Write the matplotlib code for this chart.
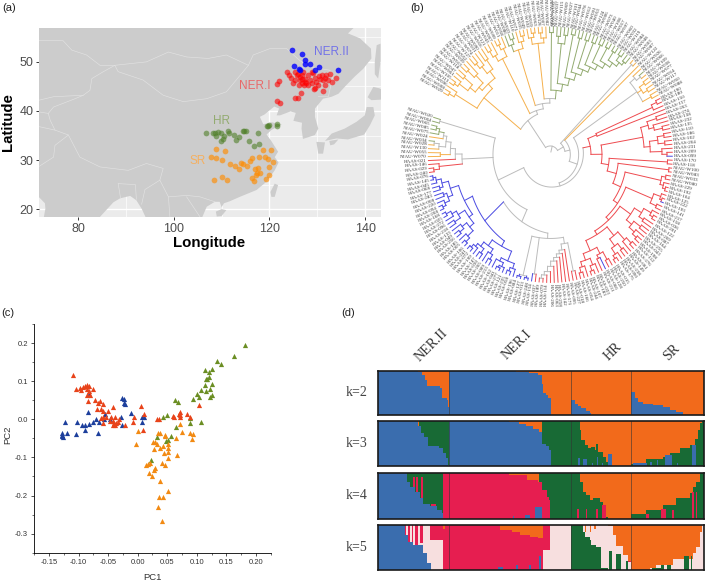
import re
import numpy as np
import matplotlib
matplotlib.use("Agg")
import matplotlib.pyplot as plt
from matplotlib.ticker import MultipleLocator

W, H = 709, 582
plt.rcParams['font.family'] = ['Liberation Sans', 'DejaVu Sans']

# ---- (a) sampling sites, lon/lat
ner2_lon = [124.7,126.7,127.5,127.4,128.5,125.2,126.1,126.4,129.5,130.4,134.3]
ner2_lat = [52.4,51.7,50.3,49.5,49.6,49.2,48.5,48.3,48.4,48.9,48.4]
ner1_lon = [123.6,124.0,124.4,125.3,125.7,125.3,125.0,126.1,126.3,126.7,127.0,127.4,127.7,128.1,128.4,128.8,129.1,129.5,129.8,128.8,129.5,130.2,130.5,130.9,131.2,131.6,131.9,132.6,132.3,133.0,134.0,131.1,126.5,126.0,125.4,121.6,122.0,121.6,122.2,126.7,127.2,128.1,130.4,131.6,126.3,126.0,127.4,126.7,129.3]
ner1_lat = [48.0,47.3,46.8,48.0,47.3,46.3,45.6,45.2,46.3,47.3,48.0,46.6,45.6,47.3,46.3,48.0,47.8,46.8,45.9,45.6,44.6,45.2,46.6,47.3,46.3,45.2,47.3,47.6,46.3,45.8,46.8,44.1,43.7,42.7,42.7,45.4,46.1,42.1,41.7,45.6,45.2,45.2,47.1,46.8,46.9,47.5,45.9,46.6,44.4]
hr_lon = [106.7,108.3,108.6,108.9,109.3,109.8,110.5,110.2,109.9,111.4,111.6,112.6,113.6,113.1,114.4,114.7,115.1,117.6,115.8,116.7,117.9,119.4,119.9,119.8,121.5,121.5]
hr_lat = [35.6,35.5,35.5,34.9,35.7,35.5,34.9,34.2,33.9,35.9,35.5,35.1,34.7,34.0,36.0,36.0,35.9,35.6,33.9,32.8,33.2,36.9,37.1,36.9,37.4,37.0]
sr_lon = [108.9,110.8,107.8,108.9,110.0,118.6,120.3,120.8,119.9,116.3,116.0,117.9,119.0,119.7,111.7,112.9,113.6,114.0,114.5,115.4,117.0,117.6,118.1,117.3,117.1,119.9,119.2,116.4,116.7,108.5,110.1,111.1]
sr_lat = [32.3,31.8,30.7,30.4,30.0,32.1,32.1,29.6,28.5,30.4,29.8,30.7,30.7,30.3,29.2,28.8,28.2,29.5,29.1,28.8,28.2,28.3,27.4,27.4,27.0,27.0,26.1,26.4,25.8,26.0,26.6,26.0]

# map outlines, lon/lat
land = [(138.2,57.5),(136.4,55.8),(138.9,54.8),(141.2,52.7),(141.3,50.7),(139.6,48.6),(137.8,47),(136.1,45.3),(134.4,43.5),(133,42.9),(131.2,42.5),(129.5,40.5),(129.5,38.8),(130.2,36.4),(129.5,35.1),(127,34.3),(126.7,36.4),(126.8,37.6),(125,38),(125.5,39.6),(124.4,39.9),(122.2,39.1),(121.5,39.1),(122,40.5),(121,40.9),(119,39.3),(118,38.8),(118.7,37.3),(120.5,37.7),(122.6,37.2),(120.5,36.2),(119.4,35.2),(120.3,34),(121.8,31.7),(121.1,30.6),(121.9,29.5),(121.1,27.9),(119.4,25.6),(117.3,23.9),(113.8,22.5),(111.7,21.6),(110.5,21.2),(110,20.4),(109.6,21.5),(108.6,21.5),(106.9,20.5),(105.8,18),(94.3,18),(93.3,20.1),(92.2,21.8),(90.9,22.7),(88.8,22.2),(87.4,21.4),(84.2,18),(72.8,18),(73.2,20.1),(73.1,21.2),(71.9,22.4),(71,22.4),(71,57.5)]
honshu = [(141.7,40.8),(142,39.1),(141,37.1),(139.8,35.2),(136.4,34.2),(134,34.4),(131.6,33.9),(133,35.4),(135.7,36.4),(138.2,37.8),(139.9,39.1),(140.3,40.8)]
hokkaido = [(141.7,44.9),(143,44.6),(145,43.5),(143.2,42.3),(141.3,42.2),(140.5,42.8)]
kyushu = [(129.8,33.7),(131.6,33.6),(131.2,31.3),(130.2,31.3)]
shikoku = [(132.5,33.9),(134.4,34.2),(133.5,33.2),(132.7,33)]
sakhalin = [(142.4,53.4),(143.2,53.7),(143.2,50),(142.7,46.6),(142,47.5),(142,50)]
taiwan = [(121.1,25.2),(121.8,24.9),(121.1,22.5),(120.4,22.5),(120.2,23.5)]
hainan = [(108.8,19.5),(110,20),(111,19.8),(110,18.6),(109,18.5)]
islands = [honshu, hokkaido, kyushu, shikoku, sakhalin, taiwan, hainan]
border_north = [(71.9,54.4),(76.9,54.3),(78.7,52.4),(81.8,51.4),(84.6,49.3),(87.7,49.3),(94.3,50),(98.9,52),(102.7,51),(107.2,50.7),(111,51.4),(115.6,49.3),(116.6,51.4),(120.1,52.7),(123.6,52.7),(126.3,50.3),(128.4,49),(132.6,48.3),(133.3,47.3),(132.3,42.9),(130.2,42.9)]
border_mongolia = [(87.7,49.3),(88.4,48),(93.6,46.3),(97.8,43.2),(102,41.9),(106.9,42.5),(111,43.9),(114.5,48),(115.6,49.3)]
border_west = [(87.7,49.3),(85.3,48),(82.9,46.6),(82.5,44.2),(81.1,43.2),(79.4,42.5),(74.9,40.8),(73.8,39.5),(74.2,38.1),(75.2,36.1),(78,35.1),(80.4,30.6),(84.6,28.6),(90.5,27.9),(94.3,29.3),(97.8,28.3),(97.1,25.9),(98.9,22.5),(102.7,22.8),(105.5,22.5),(108.6,21.5)]
border_kaz = [(81.1,43.2),(74.9,42.9),(71.9,42.2)]
border_tajik = [(73.8,39.5),(71.9,39.8)]
border_afg = [(75.2,36.1),(71.9,36.8)]
border_pak = [(71.7,28.6),(74.9,30.6),(75.2,33),(78,35.1)]
border_bangla = [(88.4,25.2),(88.9,22.2)]
border_bangla2 = [(88.4,25.2),(92,25),(92.2,22)]
border_myanmar = [(97.1,25.9),(94,24),(93.3,21)]
border_laos = [(102.7,22.5),(105.5,18.4)]
border_thai = [(98.9,22.5),(99.2,18.4)]
border_lines = [border_north, border_mongolia, border_west, border_kaz, border_tajik, border_afg, border_pak, border_bangla, border_bangla2, border_myanmar, border_laos, border_thai]

# ---- (b) tree, leaves in clockwise order, node radii in ring units (tip = 366)
o1 = "(257 (333 (350 o o) o) (275 (288 (308 (340 (352 o o) o) (340 o o)) (318 (345 o o) o)) (300 (325 (342 o o) o) (332 o o))))"
o2 = "(310 (328 (347 o o) o) (335 (350 o o) o))"
o3 = "(315o (335 g (350 g g)) (335 o (350 o o)))"
o4 = "(321 (340 o (352 o o)) (335 (350 o o) o))"
green = "(185 (350 g g) (205 (320 (340 g g) (345 g g)) (225 (350 g g) (245 (345 g g) (262 (345 g g) (278 (345 g g) (293 (348 g g) (308 (350 g g) (322 (350 g g) (335 (352 g g) (345 g g)))))))))))"
clade_a = f"(115:122 {o1} (133 {o2} (148 {o3} (161 {o4} {green}))))"
right_mix = "(316 (335 o (350 g o)) (330 (348 o o) (345 o o)) (345 o o))"
red_first = "(150 (335 (352 r r) r) r)"
red_cluster = "(282r (305 (335 r r) (320 r (345 r r))) (300r (325 (345 r r) (345 r r)) (335r r (350r r b))))"
red_cl1 = "(340 (352 r r) (350 r (358 r r)))"
red_cl1b = "(330r (352r r (358r r b)) (350 r r))"
red_cl2 = "(295 (320 (345 r (355 r r)) (335 r r)) (315 (340 r r) (335 r (350 r r))))"
red_low_a = "(300 (330 (350 r r) r) (325 (345 r r) (345 r (355 r r))))"
red_low_b = "(300r (320r (345 r r) (330r b r)) (320 (340 r (355 r r)) (335 r (350 r r))))"
red_chain = f"(177r (352 r r) (205r (358 r r) (230r {red_cl1} (245r {red_cl1b} (256r {red_cl2} (268r {red_low_a} {red_low_b}))))))"
clade_red = f"(122r {red_first} (155r {red_cluster} {red_chain}))"
mix_n1 = "(258x (340x r r) (275x r (285x r (295x r (305x r (320x r (335x r (345x r (355x r r)))))))))"
clade_m = f"(240x {mix_n1} (345x r b) (355x (360 b b) (360 b b)))"
blue_b = "(300 (330 (345 b (355 b b)) (340 (352 b (358 b b)) b)) (320 (335 (350 b b) b) (335 (350 b b) (345 b (355 b b)))))"
blue_a = "(289 (302 (318 (340 (355 b b) b) (335 (350 b b) b)) (325 (345 b b) (340 b (355 b b)))) (315 (330 (345 (355 b b) b) (340 b b)) (335 (345 b b) (350 b (358 b b)))))"
clade_left = "(265 (335 (352 r r) r) (285 r (300 (330 o o) (315 (335 o (350 o g)) (325 o (340 g (350 g g)))))))"
clade_x = f"(172 (225:195 {clade_m} (283:262 {blue_b} {blue_a})) {clade_left} (345x g g))"
tree_str = f"(25 {clade_a} (45 (355x o o) (60 o (85 {right_mix} (100:88 {clade_red} {clade_x})))))"

leaf_ids = """W029 W008 W096 W113 W105 W061 W047 W118 W013 W039 W052 W127 W074 W031 W090 W016
W121 W043 W067 W099 W011 W058 W086 W023 W110 W071 W035 W049 W102 W019 W063 W126 W007 W082
W056 W092 W037 W115 W069 W027 W101 W044 W078 W012 W091 W053 W124 W006 W073 W040 W108 W017 W097 W060 W032 W119 W084 W048
W003 W087 W122 W026 W066 W109 W038 W077 W014 W117 W050 W088
190 180 150 157 263 274 138 232 135 110 186 102 204 231 209 099 170 118 W100 W083 W033 W080
229 192 104 125 222 193 141 217 158 036 201 122 269 087 164 255 043 198 112 276 061 149 238 090 175 015 250 128 066 211 033 183 107 244 054 166
018 227 095 171 142 258 063 206 114 079 189 037 154 248 013 127 084
196 058 235 121 277 041 162 213 089 265 030 147 199 072 241 106 005 185 256 049 133 218 096 272 025 168 208 094 220 008 283 177 068 045 145 076
240 029 146 021 W070 W055 W130 W028 W034 W024 W075 W085 W065 W064 W020""".split()

tree_colors = {'o': '#f5b04c', 'g': '#93ab70', 'r': '#ee4a4f', 'b': '#4a4ae2', 'x': '#bcbcbc'}

# ---- (c) PCA
blue_pc1 = [-0.128,-0.128,-0.126,-0.123,-0.119,-0.128,-0.104,-0.102,-0.095,-0.090,-0.083,-0.090,-0.067,-0.071,-0.075,-0.065,-0.084,-0.055,-0.057,-0.047,-0.026,-0.024,-0.023,-0.021,-0.011,-0.027,-0.029,0.010,0.007,0.008,-0.082]
blue_pc2 = [-0.037,-0.044,-0.046,-0.007,-0.035,-0.042,-0.039,-0.006,-0.015,-0.014,-0.013,-0.029,-0.035,0.000,-0.007,-0.008,0.019,0.013,0.001,0.000,0.057,0.052,0.043,0.039,0.016,-0.016,0.006,0.007,-0.007,0.005,0.066]
red_pc1 = [-0.110,-0.104,-0.098,-0.096,-0.092,-0.090,-0.086,-0.082,-0.086,-0.082,-0.075,-0.085,-0.081,-0.084,-0.072,-0.067,-0.063,-0.058,-0.069,-0.062,-0.058,-0.050,-0.042,-0.062,-0.058,-0.053,-0.046,-0.038,-0.032,-0.058,-0.041,-0.038,-0.036,-0.021,-0.007,-0.008,0.006,0.010,0.009,0.032,0.036,0.059,0.071,0.072,0.072,0.084,0.089,0.103,-0.047,-0.041,-0.034,-0.040,0.062,0.069]
red_pc2 = [0.115,0.079,0.083,0.078,0.085,0.087,0.091,0.087,0.079,0.075,0.079,0.065,0.064,0.049,0.050,0.042,0.047,0.040,0.026,0.028,0.021,0.023,0.033,0.003,0.007,0.007,0.007,0.005,0.000,-0.009,-0.016,-0.016,-0.011,-0.015,0.005,-0.007,0.036,0.014,-0.027,0.000,0.000,0.008,0.019,0.011,0.007,0.013,0.005,0.037,-0.004,-0.004,-0.006,-0.011,0.005,0.014]
green_pc1 = [0.182,0.163,0.134,0.141,0.113,0.120,0.126,0.120,0.118,0.115,0.125,0.113,0.123,0.116,0.107,0.101,0.104,0.126,0.123,0.093,0.063,0.068,0.042,0.050,0.065,0.056,0.052,0.048,0.088,0.088,0.107,0.023,0.033]
green_pc2 = [0.194,0.167,0.153,0.145,0.130,0.125,0.132,0.112,0.107,0.105,0.093,0.090,0.080,0.074,0.076,0.067,0.059,0.064,0.059,0.052,0.051,0.045,0.005,0.012,-0.020,-0.044,-0.055,-0.058,0.003,-0.010,-0.006,-0.106,-0.047]
orange_pc1 = [0.000,-0.003,0.034,0.037,0.046,0.046,0.064,0.075,0.071,0.089,0.093,0.092,0.026,0.030,0.032,0.038,0.027,0.042,0.051,0.052,0.051,0.045,0.051,0.066,0.041,0.046,0.014,0.018,0.021,0.027,0.029,0.019,0.024,0.037,0.051,0.036,0.042,0.034,0.041]
orange_pc2 = [-0.032,-0.065,-0.035,-0.035,-0.044,-0.040,-0.050,-0.034,-0.012,-0.035,-0.038,-0.051,-0.059,-0.059,-0.065,-0.076,-0.078,-0.070,-0.064,-0.075,-0.087,-0.088,-0.101,-0.093,-0.115,-0.120,-0.121,-0.116,-0.114,-0.134,-0.129,-0.142,-0.148,-0.161,-0.188,-0.203,-0.204,-0.229,-0.266]

# ---- (d) ancestry, (sample index, upper bound) steps per layer
n_samples = 196
group_ends = [43, 116, 152]
group_names = ["NER.II", "NER.I", "HR", "SR"]
k2_blue = [(0,1),(24,.98),(26.5,.9),(28.5,.79),(29.5,.65),(37.5,.6),(38.5,.38),(41.5,.34),(42.3,.19),(42.7,0),(43,1),(75,.99),(83,.97),(91,.95),(96,.9),(98.5,.7),(99.5,.5),(101,.45),(102,.38),(104,0),(116,.34),(118.4,.25),(120.4,.2),(122.4,.16),(125.4,.08),(127.8,.04),(128,0),(152.2,.52),(154.4,.38),(156.4,.3),(159.4,.24),(165.4,.22),(171.4,.17),(175.4,.12),(179.4,.06),(183.4,.01),(184.4,0)]
k3_green = [(0,1),(23.4,.85),(25,1),(43,0),(79,.95),(80,0),(85,.9),(86,0),(89,.88),(90,0),(98.6,1),(121.4,.8),(122.4,.58),(124.4,.47),(126.4,.39),(128.4,.43),(130.4,.35),(131.4,.5),(132.4,.32),(135.4,.2),(137.4,.1),(138.4,.02),(140,0),(152.4,.05),(161.4,.15),(171.4,.2),(175.4,.28),(181.4,.39),(187.4,.47),(190.4,.6),(192.4,.8),(193.8,.95),(195,1)]
k3_blue = [(0,1),(24,.9),(26,.74),(28,.65),(30,.44),(37,.4),(39,.28),(41,.17),(42.5,.02),(43,1),(74,.99),(79,.97),(85,.93),(89,.88),(93,.82),(97,.76),(98.6,.5),(101,.45),(103,.35),(104,0),(120.5,.17),(121.5,0),(123.5,.15),(125.5,0),(128.5,.06),(129.5,0),(131.5,.2),(132.5,0),(134.5,.06),(135.5,0),(138.5,.26),(140.5,0),(153.5,.06),(161.5,0),(163.5,.1),(164.5,0),(167.5,.13),(168.5,0),(172.5,.25),(176.5,0),(179.5,.06),(180.5,0),(189,.47),(191,0)]
k4_green = [(0,1),(43,0),(97,1),(121.4,.8),(123.4,.59),(125.4,.51),(127.4,.4),(129.4,.44),(133.4,.37),(135.4,.26),(137.4,.04),(138.4,0),(152.4,.1),(161.4,.19),(171.4,.3),(179.4,.44),(187.4,.55),(189.4,.7),(191.4,.8),(193.4,.99),(195,1)]
k4_pink = [(0,0),(16.4,.9),(17.8,0),(21.4,.9),(22.4,0),(23,.9),(24,0),(26,.9),(27.4,0),(32,.33),(35,0),(39.4,1),(43,.99),(78.6,.95),(89.4,.85),(96.4,.8),(98.6,.62),(101.4,.48),(103,.4),(103.4,0),(120,.22),(121,0),(125,.22),(126,0),(131.4,.22),(132.4,0),(135,.3),(137,0),(161,.1),(163,0),(170,.22),(173,0),(177,.2),(178,0),(189,.58),(190,0),(191.4,.58),(192,0)]
k4_blue = [(0,1),(17.4,.8),(19.4,.7),(22.4,.59),(25.4,.44),(27.4,.33),(31.4,.27),(35.4,.2),(38.4,.12),(39.4,0),(81,.06),(82,0),(88.4,.08),(91.4,0),(94.4,.26),(98.4,0)]
k5_pink = [(0,0),(16.4,1),(17,0),(18.4,1),(19.4,0),(20.4,1),(21.4,0),(22.4,1),(24.4,0),(25.4,1),(27.4,0),(31.4,1),(39.4,.9),(40.4,1),(73.4,.89),(80.4,.85),(85.4,.78),(91.4,.74),(96.4,.7),(99.4,1),(103.4,0),(150.4,.2),(152,0)]
k5_pale = [(0,0),(17,1),(18.4,.5),(19.4,1),(20.4,.5),(21.4,1),(22.4,.5),(24.4,1),(25.4,.6),(27.4,1),(31.4,.66),(39.4,0),(99.4,.44),(103.4,1),(124.4,.85),(125.4,1),(127.4,.85),(128.4,1),(130,.9),(131,1),(138.4,.98),(141.4,.78),(143.4,.52),(147.4,.33),(150.4,.18),(152.2,0),(163.4,.03),(167.4,.1),(177.4,.25),(189.4,.37),(191.4,.51),(193.4,.85),(195,1)]
k5_green = [(0,0),(116,1),(123.4,.85),(124.4,.74),(127.4,.66),(128.4,.55),(131.4,.51),(134.4,.03),(138.4,0),(139,.42),(141,0),(143.4,.35),(146,0),(149,.2),(150.4,0),(165,.03),(170,.1),(172,0),(174,.1),(176,0),(184,.3),(187,0),(188,.3),(189,0)]
k5_blue = [(0,1),(16.4,.78),(18.4,.63),(21.4,.55),(27.4,.37),(29.4,.16),(31.8,0),(72,.06),(75,0),(83,.1),(84,0),(91,.1),(92,0),(97,.3),(98,0)]

c_blue, c_orange, c_green, c_pink, c_pale = '#3a6dae', '#f26a1b', '#186a35', '#e61e50', '#f7dfdf'


def px_axes(left, top, right, bottom):
    return fig.add_axes([left / W, 1 - bottom / H, (right - left) / W, (bottom - top) / H])


def px_text(x, y, s, **kw):
    fig.text(x / W, 1 - y / H, s, **kw)


fig = plt.figure(figsize=(W / 100, H / 100), dpi=100)

# ---------- panel (a)
ax = px_axes(39, 28, 381, 217)
ax.set_facecolor('#ebebeb')
ax.set_xlim(71.86, 143.3)
ax.set_ylim(18.4, 56.9)
for x in [80, 100, 120, 140]:
    ax.axvline(x, color='white', lw=1.0, zorder=1)
for x in [90, 110, 130]:
    ax.axvline(x, color='white', lw=0.5, zorder=1)
for y in [20, 30, 40, 50]:
    ax.axhline(y, color='white', lw=1.0, zorder=1)
for y in [25, 35, 45, 55]:
    ax.axhline(y, color='white', lw=0.5, zorder=1)
ax.fill(*zip(*land), color='#cccccc', lw=0, zorder=2)
for isl in islands:
    ax.fill(*zip(*isl), color='#cccccc', lw=0, zorder=2)
for line in border_lines:
    ax.plot(*zip(*line), color='#e2e2e2', lw=0.45, zorder=3)
ax.scatter(ner1_lon, ner1_lat, s=17, color='#ff0000', alpha=0.6, lw=0, zorder=4)
ax.scatter(ner2_lon, ner2_lat, s=17, color='#0000ff', alpha=0.8, lw=0, zorder=4)
ax.scatter(hr_lon, hr_lat, s=17, color='#4f7f28', alpha=0.6, lw=0, zorder=4)
ax.scatter(sr_lon, sr_lat, s=17, color='#ff8c00', alpha=0.65, lw=0, zorder=4)
ax.text(133, 52, "NER.II", color='#7272e8', fontsize=8.5, ha='center', va='center', zorder=5)
ax.text(117, 45, "NER.I", color='#e86a6a', fontsize=8.5, ha='center', va='center', zorder=5)
ax.text(110, 37.9, "HR", color='#93ab70', fontsize=8.5, ha='center', va='center', zorder=5)
ax.text(105, 29.9, "SR", color='#f5b060', fontsize=8.5, ha='center', va='center', zorder=5)
for sp in ax.spines.values():
    sp.set_visible(False)
ax.set_xticks([80, 100, 120, 140])
ax.set_yticks([20, 30, 40, 50])
ax.tick_params(length=2.5, width=0.7, color='#333333', labelcolor='#4d4d4d', labelsize=9, pad=1.5)
px_text(209, 242.5, "Longitude", fontsize=10.8, fontweight='bold', ha='center', va='center')
px_text(8, 122, "Latitude", fontsize=10.8, fontweight='bold', rotation=90, ha='center', va='center')
px_text(2.5, 8, "(a)", fontsize=8, ha='left', va='center', color='#222222')

# ---------- panel (b)
tokens = re.findall(r"\(|\)|[^\s()]+", tree_str)
pos = 0


def parse():
    # reads one node or leaf from the token list
    global pos
    tok = tokens[pos]
    pos += 1
    if tok != '(':
        return {'leaf': tok}
    head = tokens[pos]
    pos += 1
    fixed = head[-1] if head[-1].isalpha() else None
    nums = (head[:-1] if fixed else head).split(':')
    node = {'r0': float(nums[0]), 'r1': float(nums[-1]), 'fixed': fixed, 'kids': []}
    while tokens[pos] != ')':
        node['kids'].append(parse())
    pos += 1
    return node


root = parse()


def count_leaves(n):
    return 1 if 'leaf' in n else sum(count_leaves(k) for k in n['kids'])


n_leaves = count_leaves(root)
start_angle = 151.0
step_angle = 348.0 / (n_leaves - 1)
leaf_no = 0


def layout(n):
    global leaf_no
    if 'leaf' in n:
        n['ang'] = start_angle - leaf_no * step_angle
        n['col'] = n['leaf']
        n['id'] = leaf_ids[leaf_no % len(leaf_ids)]
        leaf_no += 1
        n['r'] = 366.0
        return
    for k in n['kids']:
        layout(k)
    n['ang'] = (n['kids'][0]['ang'] + n['kids'][-1]['ang']) / 2
    n['r'] = (n['r0'] + n['r1']) / 2
    cols = {k['col'] for k in n['kids']}
    n['col'] = n['fixed'] or (cols.pop() if len(cols) == 1 else 'x')


layout(root)
# elliptical ring, the reference is slightly stretched vertically
ax = px_axes(395.3, -7.6, 705.3, 317)
ax.set_xlim(-465, 465)
ax.set_ylim(-465, 465)
ax.axis('off')


def polar_xy(r, a):
    t = np.radians(a)
    return r * np.cos(t), r * np.sin(t)


def draw(n):
    a0, a1 = n['kids'][0]['ang'], n['kids'][-1]['ang']
    arc = np.linspace(a0, a1, 40)
    x, y = polar_xy(np.linspace(n['r0'], n['r1'], 40), arc)
    ax.plot(x, y, color=tree_colors[n['col']], lw=0.7, zorder=2 if n['col'] != 'x' else 1)
    for k in n['kids']:
        frac = (k['ang'] - a0) / (a1 - a0) if a1 != a0 else 0
        r_from = n['r0'] + (n['r1'] - n['r0']) * frac
        x, y = polar_xy(np.array([r_from, k['r']]), k['ang'])
        ax.plot(x, y, color=tree_colors[k['col']], lw=0.7, zorder=2 if k['col'] != 'x' else 1)
        if 'leaf' in k:
            tx, ty = polar_xy(370, k['ang'])
            name = ("NJAU-" if k['id'].startswith('W') else "HAAS-") + k['id']
            ang = (k['ang'] + 180) % 360 - 180
            if abs(ang) <= 90:
                ax.text(tx, ty, name, rotation=ang, ha='left', va='center', rotation_mode='anchor',
                        fontsize=3.6, family=['Liberation Serif'], color='#333333')
            else:
                ax.text(tx, ty, name, rotation=ang + 180, ha='right', va='center', rotation_mode='anchor',
                        fontsize=3.6, family=['Liberation Serif'], color='#333333')
        else:
            draw(k)


draw(root)
x, y = polar_xy(np.array([8, root['r']]), root['ang'])
ax.plot(x, y, color=tree_colors['x'], lw=0.7)
px_text(417, 8, "(b)", fontsize=8, ha='center', va='center', color='#222222')

# ---------- panel (c)
ax = px_axes(34.3, 324, 270.7, 552.7)
ax.set_xlim(-0.175, 0.225)
ax.set_ylim(-0.35, 0.25)
ax.scatter(blue_pc1, blue_pc2, marker='^', s=14, color='#1d3f9c', lw=0)
ax.scatter(green_pc1, green_pc2, marker='^', s=14, color='#6b8e23', lw=0)
ax.scatter(orange_pc1, orange_pc2, marker='^', s=14, color='#f28a13', lw=0)
ax.scatter(red_pc1, red_pc2, marker='^', s=14, color='#e8431a', lw=0)
ax.spines['top'].set_visible(False)
ax.spines['right'].set_visible(False)
ax.spines['left'].set_linewidth(0.6)
ax.spines['bottom'].set_linewidth(0.6)
ax.set_xticks(np.round(np.arange(-0.15, 0.21, 0.05), 2))
ax.set_xticklabels(["-0.15", "-0.10", "-0.05", "0.00", "0.05", "0.10", "0.15", "0.20"])
ax.set_yticks([-0.3, -0.2, -0.1, 0, 0.1, 0.2])
ax.set_yticklabels(["-0.3", "-0.2", "-0.1", "0.0", "0.1", "0.2"])
ax.xaxis.set_minor_locator(MultipleLocator(0.025))
ax.yaxis.set_minor_locator(MultipleLocator(0.05))
ax.tick_params(which='major', length=2.5, width=0.6, labelsize=5.5, pad=2, color='#333333', labelcolor='#333333')
ax.tick_params(which='minor', length=1.5, width=0.5, color='#333333')
px_text(152, 577, "PC1", fontsize=6.8, ha='center', va='center', color='#333333')
px_text(7.5, 435, "PC2", fontsize=6.8, rotation=90, ha='center', va='center', color='#333333')
px_text(8, 313, "(c)", fontsize=8, ha='center', va='center', color='#222222')

# ---------- panel (d)
panels = [
    ("k=2", 370.7, 415.0, c_orange, [(k2_blue, c_blue)]),
    ("k=3", 421.0, 466.0, c_orange, [(k3_green, c_green), (k3_blue, c_blue)]),
    ("k=4", 472.7, 518.7, c_orange, [(k4_green, c_green), (k4_pink, c_pink), (k4_blue, c_blue)]),
    ("k=5", 525.0, 569.7, c_orange, [(k5_pink, c_pink), (k5_pale, c_pale), (k5_green, c_green), (k5_blue, c_blue)]),
]
for name, top, bottom, base, layers in panels:
    ax = px_axes(377.7, top, 704, bottom)
    ax.set_xlim(0, n_samples)
    ax.set_ylim(0, 1)
    ax.set_facecolor(base)
    for steps, col in layers:
        xs = [p[0] for p in steps] + [n_samples]
        ys = [p[1] for p in steps] + [steps[-1][1]]
        ax.fill_between(xs, 0, ys, step='post', color=col, lw=0)
    for g in group_ends:
        ax.axvline(g, color='#333333', lw=0.5, alpha=0.8)
    ax.set_xticks([])
    ax.set_yticks([])
    for sp in ax.spines.values():
        sp.set_linewidth(1.2)
        sp.set_color('#1a1a1a')
    px_text(356.7, (top + bottom) / 2, name, fontsize=10, family=['Liberation Serif'],
            ha='center', va='center', color='#444444')

group_x = [431.7, 516.7, 613, 671.7]
group_y = [345, 345, 352, 352]
for nm, gx, gy in zip(group_names, group_x, group_y):
    px_text(gx, gy, nm, fontsize=10, family=['Liberation Serif'], rotation=45,
            ha='center', va='center', color='#333333')
px_text(348, 313, "(d)", fontsize=8, ha='center', va='center', color='#222222')

fig.savefig("out.png", dpi=100)
